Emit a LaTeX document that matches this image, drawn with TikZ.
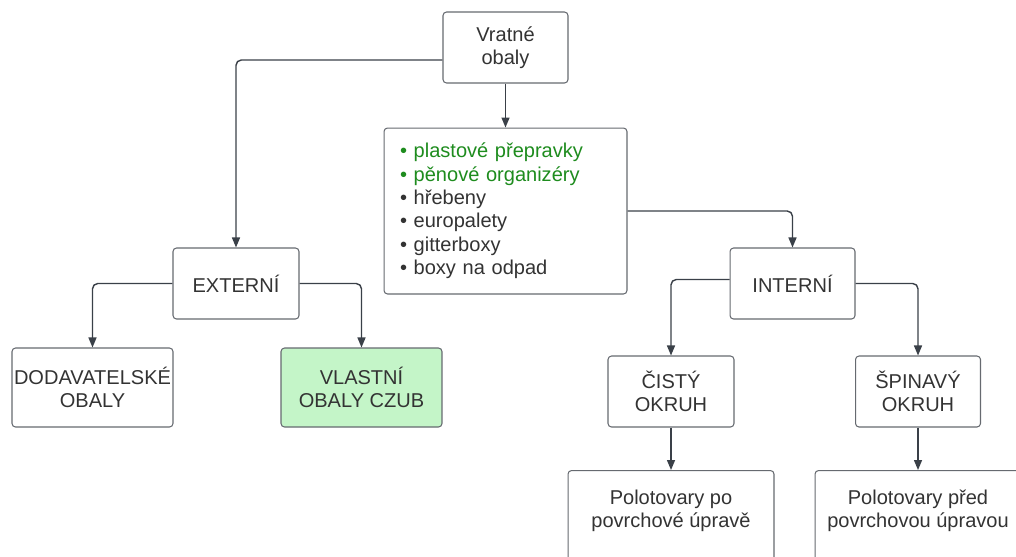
\documentclass[tikz,border=0pt]{standalone}
\usepackage{fontspec}
\setmainfont{Liberation Sans}
\usepackage{tikz}
\usetikzlibrary{arrows.meta, positioning}
\definecolor{boxline}{HTML}{666A70}
\definecolor{arrline}{HTML}{3A4048}
\definecolor{txt}{HTML}{333333}
\definecolor{okgreen}{HTML}{1E8C1E}
\definecolor{okfill}{HTML}{C4F5C8}

\begin{document}
\begin{tikzpicture}[x=0.02cm, y=-0.02cm,
	font=\fontsize{11.4}{13}\selectfont, text=txt,
	box/.style={draw=boxline, line width=0.6pt, rounded corners=2pt, fill=white, align=center},
	arr/.style={draw=arrline, line width=0.8pt, rounded corners=3pt, -{Triangle[length=0.2cm, width=0.16cm]}}]
	\useasboundingbox (0,0) rectangle (1016,556);
	\clip (0,0) rectangle (1016,556);
	\node[box, minimum width=2.5cm, minimum height=1.42cm] (vratne) at (505.5,47.5) {Vratné\\obaly};
	\node[box, minimum width=4.86cm, minimum height=3.32cm, text width=4.22cm, inner xsep=0.32cm, align=left,
		font=\fontsize{11.4}{13.3}\selectfont] (seznam) at (505.5,211)
		{\textcolor{okgreen}{• plastové přepravky}\\
		\textcolor{okgreen}{• pěnové organizéry}\\
		• hřebeny\\
		• europalety\\
		• gitterboxy\\
		• boxy na odpad};
	\node[box, minimum width=2.52cm, minimum height=1.42cm] (externi) at (236,283.5) {EXTERNÍ};
	\node[box, minimum width=2.5cm, minimum height=1.42cm] (interni) at (792.5,283.5) {INTERNÍ};
	\node[box, inner xsep=0pt, minimum width=3.22cm, minimum height=1.58cm] (dodav) at (92.5,387.5) {DODAVATELSKÉ\\OBALY};
	\node[box, fill=okfill, minimum width=3.22cm, minimum height=1.58cm] (vlastni) at (361.5,387.5) {VLASTNÍ\\OBALY CZUB};
	\node[box, minimum width=2.52cm, minimum height=1.42cm] (cisty) at (671,391.5) {ČISTÝ\\OKRUH};
	\node[box, minimum width=2.5cm, minimum height=1.42cm] (spinavy) at (918,391.5) {ŠPINAVÝ\\OKRUH};
	\node[box, minimum width=4.12cm, minimum height=2.2cm, anchor=north] (popo) at (671,470) {};
	\node[box, minimum width=4.12cm, minimum height=2.2cm, anchor=north] (pred) at (918,470) {};
	\node[align=center] (popotext) at (671,511) {Polotovary po\\povrchové úpravě};
	\node[align=center] (predtext) at (918,511) {Polotovary před\\povrchovou úpravou};
	\draw[arr] ([yshift=-0.25cm]vratne.west) -| (externi.north);
	\draw[arr] (vratne.south) -- (seznam.north);
	\draw[arr] (seznam.east) -| (interni.north);
	\draw[arr] (externi.west) -| (dodav.north);
	\draw[arr] (externi.east) -| (vlastni.north);
	\draw[arr] ([yshift=0.08cm]interni.west) -| (cisty.north);
	\draw[arr] (interni.east) -| (spinavy.north);
	\draw[arr] (cisty.south) -- (popo.north);
	\draw[arr] (spinavy.south) -- (pred.north);
\end{tikzpicture}
\end{document}
